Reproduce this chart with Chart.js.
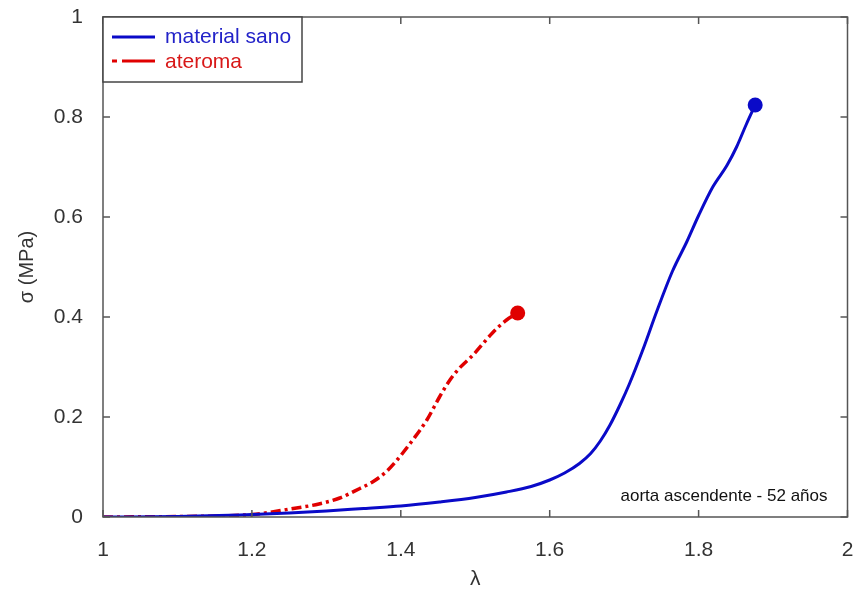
<!DOCTYPE html>
<html>
<head>
<meta charset="utf-8">
<script src="https://cdn.jsdelivr.net/npm/chart.js@4/dist/chart.umd.min.js"></script>
<style>
  html, body { margin: 0; padding: 0; background: #fff; }
  #plot { display: block; }
</style>
</head>
<body>
<canvas id="plot" width="855" height="590"></canvas>
<script>
// stretch (lambda) vs stress (MPa) curves
const sanoLambda = [1.0, 1.1, 1.184, 1.25, 1.3, 1.35, 1.4, 1.452, 1.5, 1.542, 1.575, 1.6, 1.62, 1.64, 1.655, 1.668, 1.681, 1.695, 1.707, 1.725, 1.744, 1.765, 1.784, 1.8, 1.819, 1.838, 1.851, 1.864, 1.876]
const sanoSigma = [0, 0.001, 0.004, 0.008, 0.012, 0.017, 0.022, 0.03, 0.039, 0.05, 0.061, 0.074, 0.088, 0.107, 0.127, 0.152, 0.184, 0.226, 0.266, 0.334, 0.412, 0.492, 0.55, 0.603, 0.66, 0.703, 0.74, 0.785, 0.824]

const ateromaLambda = [1.0, 1.1, 1.2, 1.251, 1.29, 1.318, 1.345, 1.362, 1.38, 1.395, 1.416, 1.435, 1.452, 1.466, 1.479, 1.497, 1.523, 1.542, 1.557]
const ateromaSigma = [0, 0.001, 0.005, 0.016, 0.026, 0.038, 0.057, 0.07, 0.09, 0.114, 0.154, 0.194, 0.24, 0.274, 0.298, 0.324, 0.368, 0.394, 0.408]

const xTicks = [1, 1.2, 1.4, 1.6, 1.8, 2]
const yTicks = [0, 0.2, 0.4, 0.6, 0.8, 1]
const seriesNames = ['material sano', 'ateroma']
const noteText = 'aorta ascendente - 52 años'

const BLUE = '#0a0ac8'
const RED = '#e00000'
const FONT = "'Liberation Sans', Arial, sans-serif"

const toPoints = (xs, ys) => xs.map((x, i) => ({ x: x, y: ys[i] }))
const endDot = (ctx) => ctx.dataIndex === ctx.dataset.data.length - 1 ? 7.5 : 0

// keep edge tick labels from shrinking the plot box
const noEdgePadding = (s) => {
  s.paddingLeft = 0; s.paddingRight = 0
  s.paddingTop = 0; s.paddingBottom = 0
}

// matlab-like box: frame, inward ticks on all sides, legend and note
const boxPlugin = {
  id: 'boxPlugin',
  afterDatasetsDraw(chart) {
    const { ctx, chartArea: a, scales } = chart
    ctx.save()
    ctx.strokeStyle = '#555'
    ctx.lineWidth = 1.5
    ctx.strokeRect(a.left, a.top, a.right - a.left, a.bottom - a.top)

    ctx.beginPath()
    xTicks.forEach(v => {
      const px = scales.x.getPixelForValue(v)
      ctx.moveTo(px, a.bottom); ctx.lineTo(px, a.bottom - 7)
      ctx.moveTo(px, a.top); ctx.lineTo(px, a.top + 7)
    })
    yTicks.forEach(v => {
      const py = scales.y.getPixelForValue(v)
      ctx.moveTo(a.left, py); ctx.lineTo(a.left + 7, py)
      ctx.moveTo(a.right, py); ctx.lineTo(a.right - 7, py)
    })
    ctx.stroke()

    // legend
    const lx = a.left, ly = a.top
    ctx.fillStyle = '#fff'
    ctx.fillRect(lx, ly, 199, 65)
    ctx.strokeStyle = '#444'
    ctx.strokeRect(lx, ly, 199, 65)

    ctx.lineWidth = 3
    ctx.strokeStyle = BLUE
    ctx.beginPath(); ctx.moveTo(lx + 9, ly + 20); ctx.lineTo(lx + 52, ly + 20); ctx.stroke()
    ctx.strokeStyle = RED
    ctx.setLineDash([5, 5, 34])
    ctx.beginPath(); ctx.moveTo(lx + 9, ly + 44); ctx.lineTo(lx + 52, ly + 44); ctx.stroke()
    ctx.setLineDash([])

    ctx.font = '21px ' + FONT
    ctx.textBaseline = 'middle'
    ctx.textAlign = 'left'
    ctx.fillStyle = '#2222c8'
    ctx.fillText(seriesNames[0], lx + 62, ly + 20)
    ctx.fillStyle = '#d81818'
    ctx.fillText(seriesNames[1], lx + 62, ly + 45)

    // annotation
    ctx.font = '17px ' + FONT
    ctx.fillStyle = '#111'
    ctx.textAlign = 'right'
    ctx.fillText(noteText, a.right - 20, a.bottom - 21)
    ctx.restore()
  }
}

new Chart(document.getElementById('plot'), {
  type: 'line',
  data: {
    datasets: [
      {
        label: seriesNames[0],
        data: toPoints(sanoLambda, sanoSigma),
        borderColor: BLUE,
        backgroundColor: BLUE,
        borderWidth: 3,
        pointRadius: endDot,
        pointBorderWidth: 0,
        cubicInterpolationMode: 'monotone'
      },
      {
        label: seriesNames[1],
        data: toPoints(ateromaLambda, ateromaSigma),
        borderColor: RED,
        backgroundColor: RED,
        borderWidth: 3.5,
        borderDash: [10, 4, 3, 4],
        pointRadius: endDot,
        pointBorderWidth: 0,
        cubicInterpolationMode: 'monotone'
      }
    ]
  },
  options: {
    responsive: false,
    animation: false,
    layout: { padding: { top: 17, right: 7, left: 0, bottom: 0 } },
    plugins: {
      legend: { display: false },
      tooltip: { enabled: false }
    },
    scales: {
      x: {
        type: 'linear',
        min: 1,
        max: 2,
        afterFit(s) { s.height = 73; noEdgePadding(s) },
        afterBuildTicks(s) { s.ticks = xTicks.map(v => ({ value: v })) },
        grid: { display: false, drawTicks: false },
        border: { display: false },
        ticks: {
          padding: 21,
          color: '#333',
          font: { family: FONT, size: 21 },
          maxRotation: 0,
          callback: v => String(v)
        },
        title: {
          display: true,
          text: 'λ',
          color: '#333',
          font: { family: FONT, size: 21, lineHeight: 1 },
          padding: { top: 0, bottom: 0 }
        }
      },
      y: {
        type: 'linear',
        min: 0,
        max: 1,
        afterFit(s) { s.width = 103; noEdgePadding(s) },
        afterBuildTicks(s) { s.ticks = yTicks.map(v => ({ value: v })) },
        grid: { display: false, drawTicks: false },
        border: { display: false },
        ticks: {
          padding: 20,
          color: '#333',
          font: { family: FONT, size: 21 },
          callback: v => String(v)
        },
        title: {
          display: true,
          text: 'σ (MPa)',
          color: '#333',
          font: { family: FONT, size: 20, lineHeight: 1.2 },
          padding: { top: 15, bottom: 0 }
        }
      }
    }
  },
  plugins: [boxPlugin]
})
</script>
</body>
</html>
